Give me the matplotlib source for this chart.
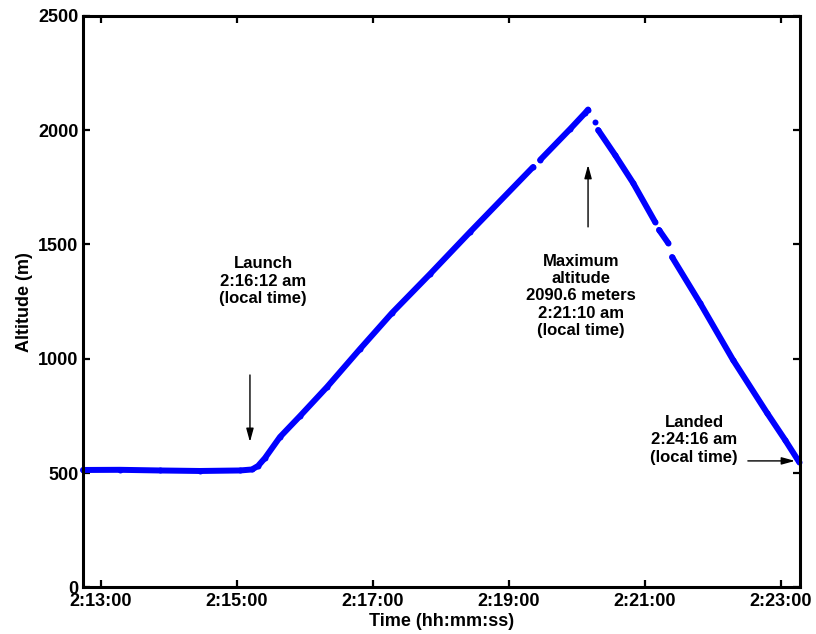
import numpy as np
import matplotlib
matplotlib.use("Agg")
import matplotlib.pyplot as plt
from matplotlib.ticker import FixedLocator, FuncFormatter

plt.rcParams["font.family"] = ["Liberation Sans", "DejaVu Sans"]
plt.rcParams["font.weight"] = "bold"

# ── Flight track (seconds after 2:13:00 on the logger clock, metres) ──────────
# NaN marks short dropouts in the GPS record
time_s = [
    -15.6, 17.0, 52.4, 87.6, 122.9, 133.5, 138.8, 145.0, 158.2, 175.9,
    199.7, 228.8, 257.0, 290.6, 325.9, 381.5, np.nan,
    387.7, 414.2, 427.4, 430.0, np.nan,
    436.2, np.nan,
    438.9, 453.8, 469.7, 489.1, np.nan,
    492.6, 500.6, np.nan,
    504.1, 528.8, 557.9, 587.9, 603.8, 616.0,
]
altitude_m = [
    513.3, 514.0, 511.1, 508.9, 511.1, 515.5, 530.8, 565.8, 657.7, 749.6,
    876.5, 1042.8, 1200.3, 1371.0, 1554.8, 1839.2, np.nan,
    1869.9, 2005.5, 2075.5, 2090.6, np.nan,
    2036.0, np.nan,
    2001.0, 1892.0, 1769.7, 1599.0, np.nan,
    1564.0, 1507.0, np.nan,
    1445.0, 1244.0, 995.0, 763.0, 645.0, 550.0,
]

x_ticks = [0, 120, 240, 360, 480, 600]
y_ticks = [0, 500, 1000, 1500, 2000, 2500]

launch_t, launch_arrow = 131.7, (929, 636)
peak_t, peak_arrow = 430.0, (1577, 1848)
landed_alt, landed_arrow = 553, (571, 612.6)


def clock_label(t, _pos=None):
    total = int(round(t)) + 13 * 60
    return f"2:{total // 60:02d}:{total % 60:02d}"


fig = plt.figure(figsize=(8.16, 6.34), dpi=100)
ax = fig.add_axes([0.1013, 0.0737, 0.8791, 0.9011])

ax.plot(time_s, altitude_m, color="#0000ff", lw=4.3, marker="o", ms=4.3,
        mew=0, solid_capstyle="round", solid_joinstyle="round", clip_on=False)

ax.set_xlim(-15.9, 617)
ax.set_ylim(0, 2500)
ax.xaxis.set_major_locator(FixedLocator(x_ticks))
ax.xaxis.set_major_formatter(FuncFormatter(clock_label))
ax.yaxis.set_major_locator(FixedLocator(y_ticks))

for side in ax.spines.values():
    side.set_linewidth(2.2)
ax.tick_params(direction="in", length=5, width=1.6, top=True, right=True,
               labelsize=13)
ax.tick_params(axis="x", pad=4)
ax.tick_params(axis="y", pad=3)

ax.set_xlabel("Time (hh:mm:ss)", fontsize=13, fontweight="bold", labelpad=2)
ax.set_ylabel("Altitude (m)", fontsize=13, fontweight="bold", labelpad=4)

# ── Annotations ────────────────────────────────────────────────────────────────
arrow = dict(arrowstyle="-|>,head_length=0.8,head_width=0.22",
             color="black", lw=1.0, shrinkA=0, shrinkB=0)
text_kw = dict(ha="center", va="center", fontsize=12, fontweight="bold",
               linespacing=1.2)

ax.annotate("", xy=(launch_t, launch_arrow[1]), xytext=(launch_t, launch_arrow[0]),
            arrowprops=arrow)
ax.text(143.3, 1340, "Launch\n2:16:12 am\n(local time)", **text_kw)

ax.annotate("", xy=(peak_t, peak_arrow[1]), xytext=(peak_t, peak_arrow[0]),
            arrowprops=arrow)
ax.text(423.8, 1275, "Maximum\naltitude\n2090.6 meters\n2:21:10 am\n(local time)",
        **text_kw)

ax.annotate("", xy=(landed_arrow[1], landed_alt), xytext=(landed_arrow[0], landed_alt),
            arrowprops=arrow)
ax.text(523.5, 645, "Landed\n2:24:16 am\n(local time)", **text_kw)

fig.savefig("out.png", dpi=100)
